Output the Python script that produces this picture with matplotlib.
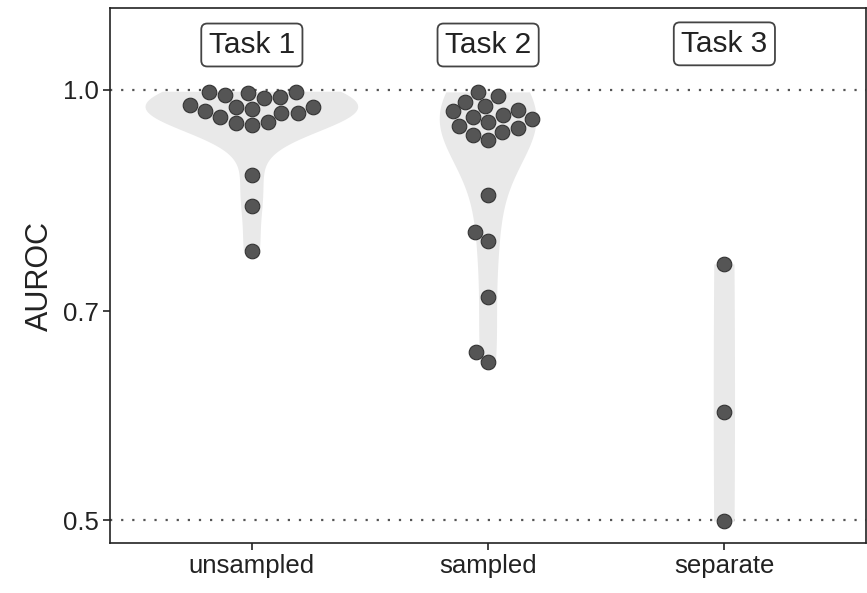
import matplotlib
matplotlib.use("Agg")
import matplotlib.pyplot as plt
import seaborn as sns
import pandas as pd
import numpy as np

categories = ["unsampled", "sampled", "separate"]
task_labels = ["Task 1", "Task 2", "Task 3"]

unsampled = [0.997, 0.996, 0.995, 0.992, 0.989, 0.987, 0.976, 0.973, 0.973,
             0.970, 0.967, 0.964, 0.964, 0.957, 0.950, 0.948, 0.945,
             0.872, 0.829, 0.772]
sampled = [0.996, 0.990, 0.980, 0.974, 0.968, 0.966, 0.960, 0.958, 0.954,
           0.950, 0.944, 0.941, 0.935, 0.930, 0.922,
           0.844, 0.796, 0.784, 0.716, 0.656, 0.645]
separate = [0.755, 0.595, 0.499]

yticks = [0.5, 0.7, 1.0]
ref_lines = [1.0, 0.5]

df = pd.DataFrame({
    "group": (["unsampled"] * len(unsampled) + ["sampled"] * len(sampled)
              + ["separate"] * len(separate)),
    "AUROC": unsampled + sampled + separate,
})

plt.rcParams["font.family"] = ["Liberation Sans", "DejaVu Sans"]

fig = plt.figure(figsize=(8.67, 5.93), dpi=100)
ax = fig.add_axes([0.127, 0.0843, 0.872, 0.9022])
ax.set_yscale("log")

violin_color = "#e9e9e9"
sns.violinplot(data=df[df.group != "separate"], x="group", y="AUROC",
               order=categories, ax=ax, inner=None, cut=0, color=violin_color,
               linewidth=0, density_norm="area", width=0.9, log_scale=True)
sns.violinplot(data=df[df.group == "separate"], x="group", y="AUROC",
               order=categories, ax=ax, inner=None, cut=0, color=violin_color,
               linewidth=0, density_norm="area", width=0.09, bw_adjust=4,
               log_scale=True)
for coll in ax.collections:
    coll.set_edgecolor("none")

sns.swarmplot(data=df, x="group", y="AUROC", order=categories, ax=ax,
              color="#555555", edgecolor="#333333", linewidth=0.8, size=10.5)

for v in ref_lines:
    ax.axhline(v, color="#555555", linestyle=(0, (1, 4)), linewidth=1.6, zorder=0.5)

label_y = [1.075, 1.075, 1.077]
for i, t in enumerate(task_labels):
    ax.text(i, label_y[i], t, ha="center", va="center", fontsize=21.5, color="#222222",
            bbox=dict(boxstyle="round,pad=0.25,rounding_size=0.2", fc="white",
                      ec="#444444", lw=1.3))

ax.set_xlim(-0.6, 2.6)
ax.set_ylim(0.482, 1.141)
ax.set_yticks(yticks)
ax.set_yticklabels([f"{t:.1f}" for t in yticks])
ax.yaxis.set_minor_locator(matplotlib.ticker.NullLocator())
ax.tick_params(axis="both", labelsize=18.5, colors="#222222", length=5, width=1.2, pad=3)
ax.set_xlabel("")
ax.set_ylabel("AUROC", fontsize=22, color="#222222", labelpad=6)
for s in ax.spines.values():
    s.set_linewidth(1.2)
    s.set_color("#222222")

fig.savefig("out.png", dpi=100)
